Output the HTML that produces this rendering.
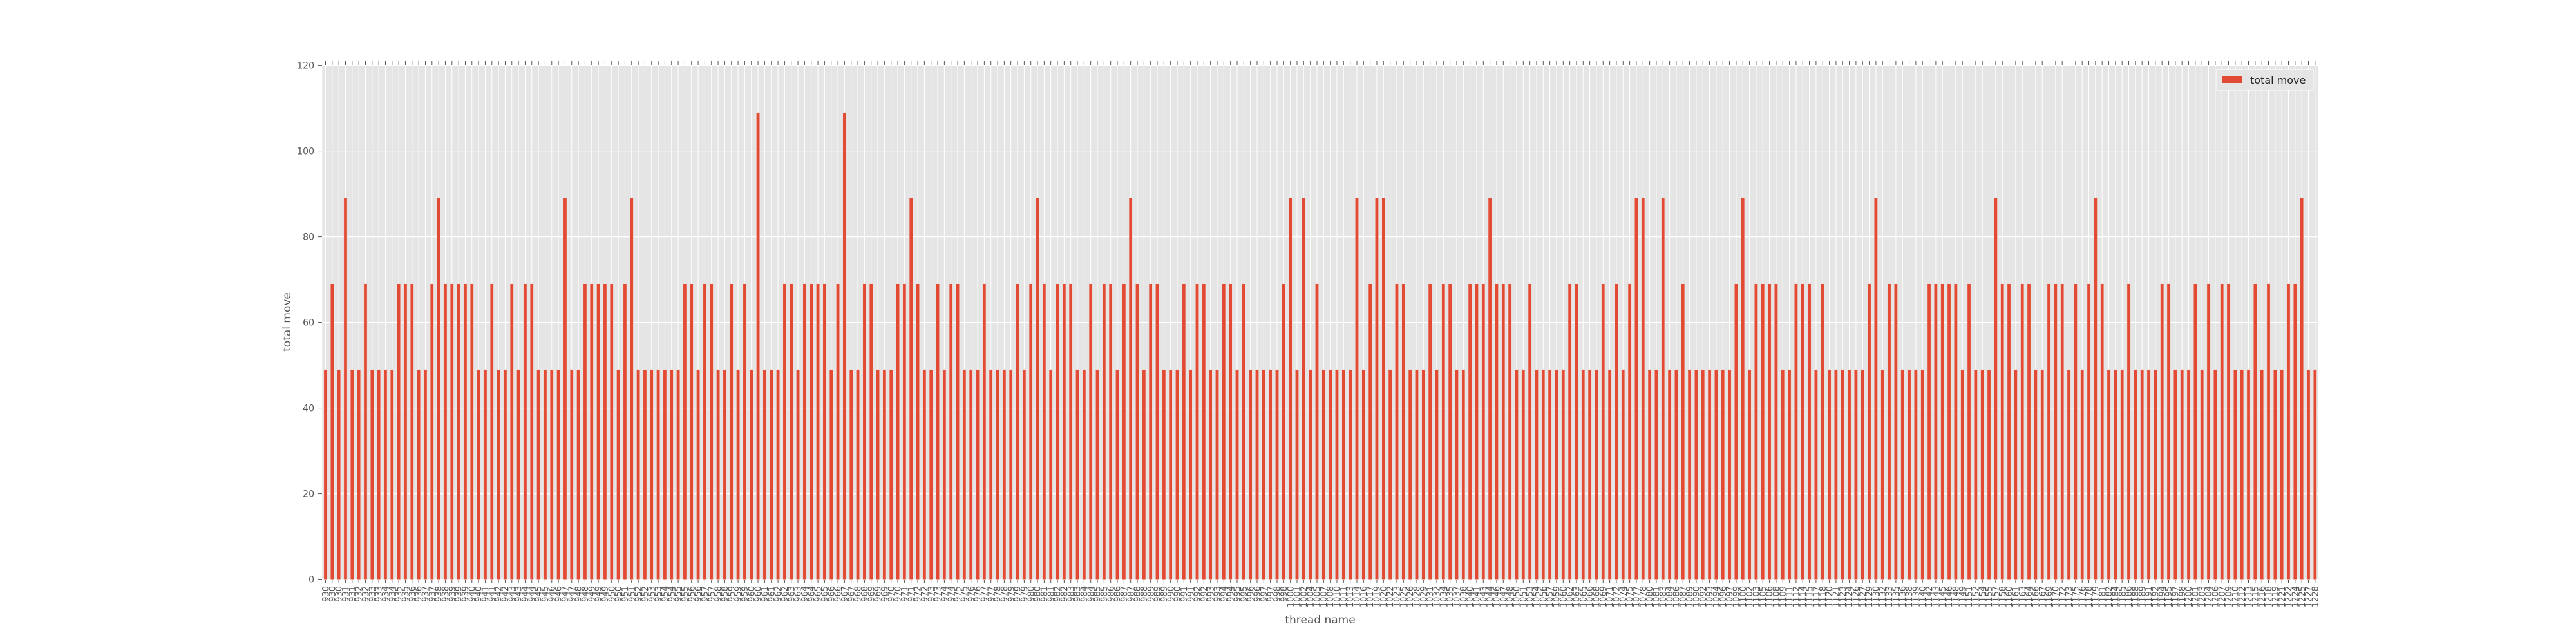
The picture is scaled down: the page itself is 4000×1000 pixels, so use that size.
<!DOCTYPE html>
<html><head><meta charset="utf-8">
<style>
html,body{margin:0;padding:0;background:#fff;}
svg{display:block;}
text{font-family:"DejaVu Sans","Liberation Sans",sans-serif;fill:#555;}
</style></head>
<body>
<svg id="chart" width="4000" height="1000" viewBox="0 0 4000 1000" xmlns="http://www.w3.org/2000/svg">
<rect x="500.3" y="101.6" width="3099.7" height="798" fill="#E5E5E5"/>
<g id="grid"></g>
<g id="bars"></g>
<g id="xticks"></g>
<g id="yticks"></g>
<text x="0" y="0" font-size="17" text-anchor="middle" transform="translate(451,500) rotate(-90)">total move</text>
<text x="2050" y="968" font-size="17" text-anchor="middle">thread name</text>
<g>
<rect x="3442" y="108" width="150" height="32" fill="#E5E5E5" stroke="#fff" stroke-width="1"/>
<rect x="3450" y="118" width="32" height="11" fill="#E24A33"/>
<text x="3494" y="130" font-size="16" style="fill:#222">total move</text>
</g>
</svg>
<script>
const values = [
49,69,49,89,49,49,69,49,49,49, 49,69,69,69,49,49,69,89,69,69, 69,69,69,49,49,69,49,49,69,49, 69,69,49,49,49,49,89,49,49,69, 69,69,69,69,49,69,89,49,49,49,
49,49,49,49,69,69,49,69,69,49, 49,69,49,69,49,109,49,49,49,69, 69,49,69,69,69,69,49,69,109,49, 49,69,69,49,49,49,69,69,89,69, 49,49,69,49,69,69,49,49,49,69,
49,49,49,49,69,49,69,89,69,49, 69,69,69,49,49,69,49,69,69,49, 69,89,69,49,69,69,49,49,49,69, 49,69,69,49,49,69,69,49,69,49, 49,49,49,49,69,89,49,89,49,69,
49,49,49,49,49,89,49,69,89,89, 49,69,69,49,49,49,69,49,69,69, 49,49,69,69,69,89,69,69,69,49, 49,69,49,49,49,49,49,69,69,49, 49,49,69,49,69,49,69,89,89,49,
49,89,49,49,69,49,49,49,49,49, 49,49,69,89,49,69,69,69,69,49, 49,69,69,69,49,69,49,49,49,49, 49,49,69,89,49,69,69,49,49,49, 49,69,69,69,69,69,49,69,49,
49,49,89,69,69,49,69,69,49,49, 69,69,69,49,69,49,69,89,69,49, 49,49,69,49,49,49,49,69,69,49, 49,49,69,49,69,49,69,69,49,49, 49,69,49,69,49,49,69,69,89,49, 49
];
const categories = [];
for (let i = 0; i < values.length; i++) {
  categories.push(i < 145 ? String(930 + Math.floor(i * 69 / 145)) : String(1000 + Math.floor((i - 145) * 230 / 155)));
}
const yTicks = [0, 20, 40, 60, 80, 100, 120];

const NS = "http://www.w3.org/2000/svg";
const X0 = 500.3, X1 = 3600, Y0 = 899.6, Y1 = 101.6, YMAX = 120;
const n = values.length;
const step = (X1 - X0) / n;
function xScale(i) { return X0 + (i + 0.5) * step; }
function yScale(v) { return Y0 - (v / YMAX) * (Y0 - Y1); }
function mk(tag, attrs, parent) {
  const e = document.createElementNS(NS, tag);
  for (const k in attrs) e.setAttribute(k, attrs[k]);
  parent.appendChild(e);
  return e;
}
const grid = document.getElementById('grid');
const bars = document.getElementById('bars');
const xt = document.getElementById('xticks');
const yt = document.getElementById('yticks');

yTicks.forEach(t => {
  const y = yScale(t);
  const gl = mk('line', {x1: X0, x2: X1, y1: y, y2: y, stroke: '#fff', 'stroke-width': 1.2}, grid);
  
  
  const tk = mk('line', {x1: 494, x2: 500, y1: y, y2: y, stroke: '#555', 'stroke-width': 1}, yt);
  
  
  const tx = mk('text', {x: 488, y: y + 5, 'font-size': 14, 'text-anchor': 'end'}, yt);
  tx.textContent = t;
  
  
});

for (let i = 0; i < n; i++) {
  const x = xScale(i);
  const gl = mk('line', {x1: x, x2: x, y1: Y1, y2: Y0, stroke: '#fff', 'stroke-width': 1}, grid);
  
  
  const h = Y0 - yScale(values[i]);
  const b = mk('rect', {x: x - 2.6, y: yScale(values[i]), width: 5.2, height: h, fill: '#E24A33', stroke: '#f0d8d4', 'stroke-width': 0.5}, bars);
  
  
  const t1 = mk('line', {x1: x, x2: x, y1: 95, y2: 101, stroke: '#555', 'stroke-width': 1}, xt);
  
  
  const t2 = mk('line', {x1: x, x2: x, y1: 900, y2: 906, stroke: '#555', 'stroke-width': 1}, xt);
  
  
  const lb = mk('text', {x: 0, y: 0, 'font-size': 13, 'text-anchor': 'end', transform: 'translate(' + (x + 4.6) + ',910) rotate(-90)'}, xt);
  lb.textContent = categories[i];
  
  
}
</script>
</body></html>
